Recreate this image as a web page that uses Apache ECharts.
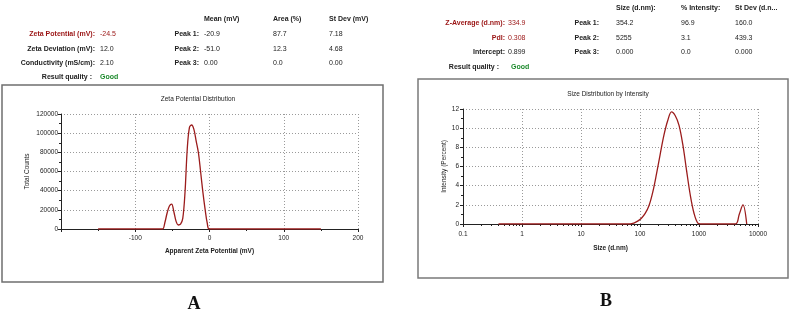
<!DOCTYPE html>
<html>
<head>
<meta charset="utf-8">
<script src="https://cdn.jsdelivr.net/npm/echarts@6/dist/echarts.min.js"></script>
<style>
  html, body { margin: 0; padding: 0; background: #fff; }
  #chart { width: 792px; height: 313px; }
</style>
</head>
<body>
<div id="chart"></div>
<script>
// Zeta potential distribution (panel A)
const zetaMv = [-150, -66, -63, -60, -57, -54, -51, -48, -45, -42, -39, -36, -33, -30, -27, -24, -21, -18, -15, -12, -9, -6, -3, 0, 150]
const zetaCounts = [0, 0, 0, 7000, 17000, 24000, 26000, 18000, 8000, 4200, 5000, 11000, 38000, 83000, 106000, 108500, 104000, 92000, 80000, 60000, 39000, 21000, 6000, 0, 0]
const zetaTicks = [-200, -100, 0, 100, 200]

// Size distribution by intensity (panel B)
const sizeNm = [0.4, 68.06, 78.82, 91.28, 105.7, 122.4, 141.8, 164.2, 190.1, 220.2, 255.0, 295.3, 342.0, 396.1, 458.7, 531.2, 615.1, 712.4, 825.0, 955.4, 1106, 4145, 4801, 5560, 6439]
const sizeIntensity = [0, 0, 0.1, 0.3, 0.6, 1.1, 1.9, 3.3, 5.2, 7.3, 9.3, 10.8, 11.7, 11.3, 10.3, 8.3, 5.6, 3.0, 1.1, 0.1, 0, 0, 1.0, 2.0, 0]

// result tables
const zetaRows = [
  ['Zeta Potential (mV):', '-24.5'],
  ['Zeta Deviation (mV):', '12.0'],
  ['Conductivity (mS/cm):', '2.10'],
]
const zetaHead = ['Mean (mV)', 'Area (%)', 'St Dev (mV)']
const zetaPeaks = [
  ['-20.9', '87.7', '7.18'],
  ['-51.0', '12.3', '4.68'],
  ['0.00', '0.0', '0.00'],
]
const sizeRows = [
  ['Z-Average (d.nm):', '334.9'],
  ['PdI:', '0.308'],
  ['Intercept:', '0.899'],
]
const sizeHead = ['Size (d.nm):', '% Intensity:', 'St Dev (d.n...']
const sizePeaks = [
  ['354.2', '96.9', '160.0'],
  ['5255', '3.1', '439.3'],
  ['0.000', '0.0', '0.000'],
]

const FONT = 'Liberation Sans'
const RED = '#9a1414'
const GREEN = '#1c8a2c'
const LINE = '#9b1c1c'

const chart = echarts.init(document.getElementById('chart'), null, { renderer: 'canvas' })

function txt(text, x, y, opts = {}) {
  return {
    type: 'text',
    z: 10,
    style: {
      text, x, y,
      fill: opts.fill || '#222',
      font: (opts.bold === false ? '' : 'bold ') + (opts.size || 7) + 'px ' + (opts.family || FONT),
      textAlign: opts.align || 'left',
      textVerticalAlign: 'middle',
    },
  }
}

const graphics = []
// panel frames
graphics.push({ type: 'rect', z: -10, shape: { x: 2, y: 85, width: 381, height: 197 }, style: { fill: '#fff', stroke: '#6f6f6f', lineWidth: 1.5 } })
graphics.push({ type: 'rect', z: -10, shape: { x: 418, y: 79, width: 370, height: 199 }, style: { fill: '#fff', stroke: '#7a7a7a', lineWidth: 1.5 } })

// panel A table
const aRowY = [34, 49, 63]
zetaRows.forEach((r, i) => {
  graphics.push(txt(r[0], 95, aRowY[i], { fill: i === 0 ? RED : '#222', align: 'right' }))
  graphics.push(txt(r[1], 100, aRowY[i], { fill: i === 0 ? RED : '#222', bold: false }))
})
graphics.push(txt('Result quality :', 92, 77, { align: 'right' }))
graphics.push(txt('Good', 100, 77, { fill: GREEN }))
const aCols = [204, 273, 329]
zetaHead.forEach((h, j) => graphics.push(txt(h, aCols[j], 19)))
zetaPeaks.forEach((row, i) => {
  graphics.push(txt('Peak ' + (i + 1) + ':', 199, aRowY[i], { align: 'right' }))
  row.forEach((v, j) => graphics.push(txt(v, aCols[j], aRowY[i], { bold: false })))
})

// panel B table
const bRowY = [23, 38, 52]
sizeRows.forEach((r, i) => {
  graphics.push(txt(r[0], 505, bRowY[i], { fill: i < 2 ? RED : '#222', align: 'right' }))
  graphics.push(txt(r[1], 508, bRowY[i], { fill: i < 2 ? RED : '#222', bold: false }))
})
graphics.push(txt('Result quality :', 499, 67, { align: 'right' }))
graphics.push(txt('Good', 511, 67, { fill: GREEN }))
const bCols = [616, 681, 735]
sizeHead.forEach((h, j) => graphics.push(txt(h, bCols[j], 8)))
sizePeaks.forEach((row, i) => {
  graphics.push(txt('Peak ' + (i + 1) + ':', 599, bRowY[i], { align: 'right' }))
  row.forEach((v, j) => graphics.push(txt(v, bCols[j], bRowY[i], { bold: false })))
})

// panel letters
graphics.push(txt('A', 194, 304, { size: 18, family: 'Liberation Serif', align: 'center', fill: '#111' }))
graphics.push(txt('B', 606, 301, { size: 18, family: 'Liberation Serif', align: 'center', fill: '#111' }))

const axisLine = { onZero: false, lineStyle: { color: '#222', width: 1 } }
const gridLine = { lineStyle: { color: '#9a9a9a', type: [1, 2], width: 1 } }
const lbl = { fontSize: 6.5, color: '#222', fontFamily: FONT, formatter: v => String(v) }

chart.setOption({
  animation: false,
  title: [
    { text: 'Zeta Potential Distribution', left: 193, top: 91, textAlign: 'center',
      textStyle: { fontSize: 6.5, fontWeight: 'normal', color: '#222', fontFamily: FONT } },
    { text: 'Size Distribution by Intensity', left: 603, top: 86, textAlign: 'center',
      textStyle: { fontSize: 6.5, fontWeight: 'normal', color: '#222', fontFamily: FONT } },
  ],
  graphic: graphics,
  grid: [
    { left: 61, top: 114, width: 297, height: 115 },
    { left: 463, top: 109, width: 295, height: 115 },
  ],
  xAxis: [
    {
      gridIndex: 0, type: 'value', min: zetaTicks[0], max: zetaTicks[zetaTicks.length - 1], interval: 100,
      axisLine, axisTick: { inside: false, length: 3, lineStyle: { color: '#222' } },
      minorTick: { show: true, splitNumber: 2, length: 2, lineStyle: { color: '#222' } },
      splitLine: { show: true, ...gridLine },
      axisLabel: { ...lbl, margin: 6, formatter: v => (v === zetaTicks[0] ? '' : String(v)) },
      name: 'Apparent Zeta Potential (mV)', nameLocation: 'middle', nameGap: 19,
      nameTextStyle: { fontSize: 6.5, fontWeight: 'bold', color: '#222', fontFamily: FONT },
    },
    {
      gridIndex: 1, type: 'log', logBase: 10, min: 0.1, max: 10000,
      axisLine, axisTick: { length: 3, lineStyle: { color: '#222' } },
      minorTick: { show: true, splitNumber: 9, length: 2, lineStyle: { color: '#222' } },
      splitLine: { show: true, ...gridLine },
      axisLabel: { ...lbl, margin: 7 },
      name: 'Size (d.nm)', nameLocation: 'middle', nameGap: 21,
      nameTextStyle: { fontSize: 6.5, fontWeight: 'bold', color: '#222', fontFamily: FONT },
    },
  ],
  yAxis: [
    {
      gridIndex: 0, type: 'value', min: 0, max: 120000, interval: 20000,
      axisLine, axisTick: { length: 3, lineStyle: { color: '#222' } },
      minorTick: { show: true, splitNumber: 2, length: 2, lineStyle: { color: '#222' } },
      splitLine: { show: true, ...gridLine },
      axisLabel: { ...lbl, margin: 3 },
      name: 'Total Counts', nameLocation: 'middle', nameGap: 30, nameRotate: 90,
      nameTextStyle: { fontSize: 6.5, color: '#222', fontFamily: FONT },
    },
    {
      gridIndex: 1, type: 'value', min: 0, max: 12, interval: 2,
      axisLine, axisTick: { length: 3, lineStyle: { color: '#222' } },
      minorTick: { show: true, splitNumber: 2, length: 2, lineStyle: { color: '#222' } },
      splitLine: { show: true, ...gridLine },
      axisLabel: { ...lbl, margin: 4 },
      name: 'Intensity (Percent)', nameLocation: 'middle', nameGap: 14, nameRotate: 90,
      nameTextStyle: { fontSize: 6.5, color: '#222', fontFamily: FONT },
    },
  ],
  series: [
    {
      type: 'line', xAxisIndex: 0, yAxisIndex: 0, z: 5,
      data: zetaMv.map((x, i) => [x, zetaCounts[i]]),
      smooth: 0.35, showSymbol: false,
      lineStyle: { color: LINE, width: 1.3 },
    },
    {
      type: 'line', xAxisIndex: 1, yAxisIndex: 1, z: 5,
      data: sizeNm.map((x, i) => [x, sizeIntensity[i]]),
      smooth: 0.35, showSymbol: false,
      lineStyle: { color: LINE, width: 1.3 },
    },
  ],
})
</script>
</body>
</html>
